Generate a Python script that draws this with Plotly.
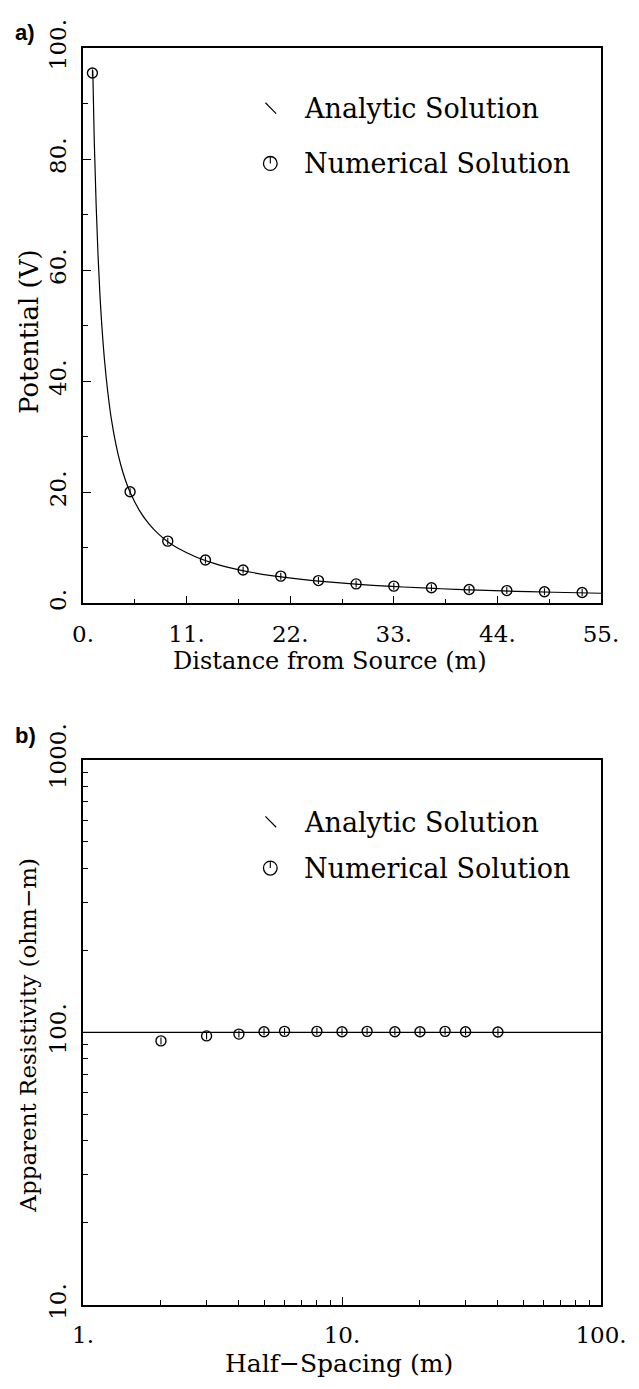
import plotly.graph_objects as go

# ---------------- data: panel a ----------------
dist_curve = [1.04, 1.2, 1.4, 1.6, 1.8, 2.0, 2.3, 2.6, 3.0, 3.5, 4.0, 4.5, 5.0, 6.0, 7.0,
              8.0, 9.0, 10.0, 12.0, 14.0, 16.0, 18.0, 20.0, 23.0, 26.0, 30.0, 34.0,
              38.0, 42.0, 46.0, 50.0, 55.0]
pot_curve = [96.0, 83.0, 71.5, 62.5, 55.5, 50.0, 43.5, 38.5, 33.3, 28.6, 25.0, 22.2, 20.0,
             16.7, 14.3, 12.5, 11.1, 10.0, 8.35, 7.15, 6.25, 5.55, 5.0, 4.35, 3.85, 3.33,
             2.94, 2.63, 2.38, 2.17, 2.0, 1.82]
dist_num = [1, 5, 9, 13, 17, 21, 25, 29, 33, 37, 41, 45, 49, 53]
pot_num = [95.5, 20.1, 11.2, 7.8, 6.0, 4.9, 4.1, 3.5, 3.1, 2.8, 2.5, 2.3, 2.1, 1.95]

xa_ticks = [0, 11, 22, 33, 44, 55]
xa_text = ["0.", "11.", "22.", "33.", "44.", "55."]
ya_ticks = [0, 20, 40, 60, 80, 100]
ya_text = ["0.", "20.", "40.", "60.", "80.", "100."]

# ---------------- data: panel b ----------------
spacing_line = [1, 100]
rho_line = [100, 100]
half_spacing = [2, 3, 4, 5, 6, 8, 10, 12.5, 16, 20, 25, 30, 40]
rho_num = [93.0, 97.0, 98.5, 100.5, 100.8, 100.8, 100.5, 100.8, 100.5, 100.5, 100.8, 100.5, 100.2]

xb_ticks = [1, 10, 100]
xb_text = ["1.", "10.", "100."]
yb_ticks = [10, 100, 1000]
yb_text = ["10.", "100.", "1000."]
xb_minor = [2, 3, 4, 5, 6, 7, 8, 9, 20, 30, 40, 50, 60, 70, 80, 90]
yb_minor = [20, 30, 40, 50, 60, 70, 80, 90, 200, 300, 400, 500, 600, 700, 800, 900]

legend_labels = ["Analytic Solution", "Numerical Solution"]

# ---------------- geometry ----------------
W, H = 639, 1389
L, R, T, B = 83, 25, 42, 84
PW = W - L - R
PH = H - T - B
A_TOP, A_BOT = 42, 600
B_TOP, B_BOT = 757, 1305


def px(xp):
    return (xp - L) / PW


def py(yp):
    return (H - B - yp) / PH


SERIF = "DejaVu Serif"
BLACK = "black"

fig = go.Figure()

# panel a
fig.add_trace(go.Scatter(x=dist_curve, y=pot_curve, mode="lines", line=dict(color=BLACK, width=1.2, shape="spline"),
                         xaxis="x", yaxis="y", showlegend=False))
fig.add_trace(go.Scatter(x=dist_num, y=pot_num, mode="markers",
                         marker=dict(symbol="circle-open", size=10, color=BLACK, line=dict(width=1.4)),
                         xaxis="x", yaxis="y", showlegend=False))
fig.add_trace(go.Scatter(x=dist_num, y=pot_num, mode="markers",
                         marker=dict(symbol="line-ns-open", size=5, color=BLACK, line=dict(width=1.1)),
                         xaxis="x", yaxis="y", showlegend=False))

# panel b
fig.add_trace(go.Scatter(x=spacing_line, y=rho_line, mode="lines", line=dict(color=BLACK, width=1.3),
                         xaxis="x2", yaxis="y2", showlegend=False))
fig.add_trace(go.Scatter(x=half_spacing, y=rho_num, mode="markers",
                         marker=dict(symbol="circle-open", size=10, color=BLACK, line=dict(width=1.4)),
                         xaxis="x2", yaxis="y2", showlegend=False))
fig.add_trace(go.Scatter(x=half_spacing, y=rho_num, mode="markers",
                         marker=dict(symbol="line-ns-open", size=5, color=BLACK, line=dict(width=1.1)),
                         xaxis="x2", yaxis="y2", showlegend=False))

tickfont = dict(family=SERIF, size=23, color=BLACK)
common = dict(showline=True, linecolor=BLACK, linewidth=1.5, mirror=True, showgrid=False, zeroline=False,
              ticks="inside", ticklen=8, tickwidth=1.2, tickcolor=BLACK, tickfont=tickfont, tickmode="array")

fig.update_layout(
    width=W, height=H, margin=dict(l=L, r=R, t=T, b=B),
    paper_bgcolor="white", plot_bgcolor="white", showlegend=False,
    xaxis=dict(common, domain=[0, 1], anchor="y", range=[0, 55], tickvals=xa_ticks, ticktext=xa_text,
               ticklabelstandoff=9,
               minor=dict(ticks="inside", ticklen=5, tickwidth=1, tickcolor=BLACK, dtick=5.5, tick0=0)),
    yaxis=dict(common, domain=[py(A_BOT), py(A_TOP)], anchor="x", range=[0, 100], tickvals=ya_ticks,
               ticktext=ya_text, tickangle=-90, ticklabelstandoff=6,
               minor=dict(ticks="inside", ticklen=5, tickwidth=1, tickcolor=BLACK, dtick=10, tick0=0)),
    xaxis2=dict(common, domain=[0, 1], anchor="y2", type="log", range=[0, 2], tickvals=xb_ticks,
                ticktext=xb_text, ticklabelstandoff=9,
                minor=dict(ticks="inside", ticklen=5, tickwidth=1, tickcolor=BLACK, tickmode="array",
                           tickvals=xb_minor)),
    yaxis2=dict(common, domain=[py(B_BOT), py(B_TOP)], anchor="x2", type="log", range=[1, 3],
                tickvals=yb_ticks, ticktext=yb_text, tickangle=-90, ticklabelstandoff=6,
                minor=dict(ticks="inside", ticklen=5, tickwidth=1, tickcolor=BLACK, tickmode="array",
                           tickvals=yb_minor)),
)


def tf(size):
    return dict(family=SERIF, size=size, color=BLACK)


ann = []
# axis titles
ann.append(dict(text="Distance from Source (m)", x=px(336), y=py(658), xref="paper", yref="paper",
                showarrow=False, font=tf(24), xanchor="center", yanchor="middle"))
ann.append(dict(text="Potential (V)", x=px(27), y=py(327), xref="paper", yref="paper", textangle=-90,
                showarrow=False, font=tf(26), xanchor="center", yanchor="middle"))
ann.append(dict(text="Half\u2212Spacing (m)", x=px(345), y=py(1364), xref="paper", yref="paper",
                showarrow=False, font=tf(25), xanchor="center", yanchor="middle"))
ann.append(dict(text="Apparent Resistivity (ohm\u2212m)", x=px(27), y=py(1034), xref="paper", yref="paper",
                textangle=-90, showarrow=False, font=tf(23), xanchor="center", yanchor="middle"))
# panel letters
for lab, yp in (("a)", 26), ("b)", 733)):
    ann.append(dict(text="<b>%s</b>" % lab, x=px(11), y=py(yp), xref="paper", yref="paper", showarrow=False,
                    font=dict(family="Liberation Sans", size=22, color=BLACK), xanchor="left",
                    yanchor="middle"))

shapes = []
# legends
for (ya_an, ya_nu) in ((103, 158), (820, 866)):
    ann.append(dict(text=legend_labels[0], x=px(307), y=py(ya_an), xref="paper", yref="paper",
                    showarrow=False, font=tf(27), xanchor="left", yanchor="middle"))
    ann.append(dict(text=legend_labels[1], x=px(307), y=py(ya_nu), xref="paper", yref="paper",
                    showarrow=False, font=tf(27), xanchor="left", yanchor="middle"))
    shapes.append(dict(type="line", xref="paper", yref="paper", x0=px(270), y0=py(ya_an - 6),
                       x1=px(281), y1=py(ya_an + 5), line=dict(color=BLACK, width=1.2)))
    shapes.append(dict(type="circle", xref="paper", yref="paper", x0=px(268), x1=px(282),
                       y0=py(ya_nu - 7), y1=py(ya_nu + 7), line=dict(color=BLACK, width=1.3)))
    shapes.append(dict(type="line", xref="paper", yref="paper", x0=px(275), y0=py(ya_nu - 7),
                       x1=px(275), y1=py(ya_nu), line=dict(color=BLACK, width=1.1)))

fig.update_layout(annotations=ann, shapes=shapes)

fig.write_html("out.html")
